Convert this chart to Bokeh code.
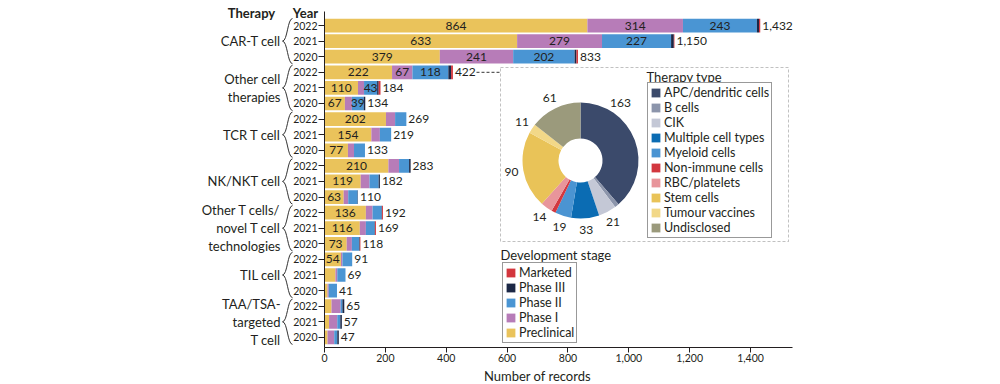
import math
from bokeh.plotting import figure
from bokeh.models import (Range1d, FixedTicker, NumeralTickFormatter, Legend, LegendItem,
                          BoxAnnotation, ColumnDataSource)
from bokeh.embed import file_html
from bokeh.resources import INLINE
from bokeh.core.properties import value

# ---------------- data ----------------
therapies = ["CAR-T cell", "Other cell\ntherapies", "TCR T cell", "NK/NKT cell",
             "Other T cells/\nnovel T cell\ntechnologies", "TIL cell", "TAA/TSA-\ntargeted\nT cell"]
years = ["2022", "2021", "2020"]
stages = ["Preclinical", "Phase I", "Phase II", "Phase III", "Marketed"]

preclinical = [864, 633, 379, 222, 110, 67, 202, 154, 77, 210, 119, 63, 136, 116, 73, 54, 36, 10, 23, 15, 10]
phase1 =      [314, 279, 241, 67, 20, 23, 30, 28, 20, 35, 29, 15, 22, 20, 17, 5, 6, 4, 30, 27, 22]
phase2 =      [243, 227, 202, 118, 43, 39, 37, 37, 36, 33, 30, 31, 30, 29, 24, 32, 27, 27, 6, 10, 10]
phase3 =      [7, 9, 6, 9, 5, 5, 0, 0, 0, 5, 4, 1, 1, 1, 2, 0, 0, 0, 6, 5, 5]
marketed =    [4, 2, 5, 6, 6, 0, 0, 0, 0, 0, 0, 0, 3, 3, 2, 0, 0, 0, 0, 0, 0]

therapy_types = ["APC/dendritic cells", "B cells", "CIK", "Multiple cell types", "Myeloid cells",
                 "Non-immune cells", "RBC/platelets", "Stem cells", "Tumour vaccines", "Undisclosed"]
type_counts = [163, 5, 21, 33, 19, 5, 14, 90, 11, 61]

x_ticks = [0, 200, 400, 600, 800, 1000, 1200, 1400]

# ---------------- styles / layout ----------------
stage_colors = ["#eac35b", "#b77cb8", "#4a95d3", "#1b2746", "#d3363d"]
type_colors = ["#3b4a6b", "#8c95ab", "#c4c8d6", "#0b6cb3", "#4b94d2",
               "#d2373f", "#e8959b", "#e9c358", "#f2d888", "#9b9a7c"]
TXT = "#231f20"
FONT = "Lato"

W, H = 800, 382
LEFT, RIGHT, TOP, BOT = 324, 8, 11, 35
X1 = 1538
Y0, Y1 = -0.65, 20.9
xscale = (W - LEFT - RIGHT) / X1          # px per data unit
yscale = (H - TOP - BOT) / (Y1 - Y0)

def px_x(px):  # page-pixel x -> data x (for layout of side texts)
    return (px - LEFT) / xscale

def px_y(py):
    return Y1 - (py - TOP) / yscale

n_rows = len(therapies) * len(years)
ys = [n_rows - 1 - i for i in range(n_rows)]
stage_values = [preclinical, phase1, phase2, phase3, marketed]
totals = [sum(v[i] for v in stage_values) for i in range(n_rows)]

src = ColumnDataSource(dict(y=ys, **{s: v for s, v in zip(stages, stage_values)}))

p = figure(width=W, height=H, x_range=Range1d(0, X1), y_range=Range1d(Y0, Y1),
           output_backend="svg", toolbar_location=None,
           min_border_left=LEFT, min_border_right=RIGHT, min_border_top=TOP, min_border_bottom=BOT)
p.outline_line_color = None
p.grid.visible = False

bars = p.hbar_stack(stages, y="y", height=0.88, color=stage_colors, source=src, line_color=None)

seg_x, seg_y, seg_t = [], [], []
for i in range(n_rows):
    edge = 0
    for arr in stage_values:
        v = arr[i]
        if v >= 38:
            seg_x.append(edge + v / 2)
            seg_y.append(ys[i])
            seg_t.append(str(v))
        edge += v
p.text(x=seg_x, y=seg_y, text=seg_t, text_align="center", text_baseline="middle",
       text_font=value(FONT), text_font_size="12px", text_color=TXT)
p.text(x=totals, y=ys, text=[f"{t:,}" for t in totals], x_offset=2, text_align="left",
       text_baseline="middle", text_font=value(FONT), text_font_size="12px", text_color=TXT,
       level="overlay")

# ---------------- axes ----------------
p.xaxis.ticker = FixedTicker(ticks=x_ticks)
p.xaxis.formatter = NumeralTickFormatter(format="0,0")
p.xaxis.major_label_text_font = FONT
p.xaxis.major_label_text_font_size = "10.5px"
p.xaxis.major_label_text_color = TXT
p.xaxis.major_label_standoff = 1
p.xaxis.major_tick_out = 5
p.xaxis.major_tick_in = 0
p.xaxis.minor_tick_line_color = None
p.xaxis.axis_line_color = TXT
p.xaxis.major_tick_line_color = TXT

p.yaxis.ticker = FixedTicker(ticks=ys)
p.yaxis.major_label_overrides = {y: years[i % 3] for i, y in enumerate(ys)}
p.yaxis.major_label_text_font = FONT
p.yaxis.major_label_text_font_size = "10.5px"
p.yaxis.major_label_text_color = TXT
p.yaxis.major_label_standoff = 1
p.yaxis.major_tick_out = 6
p.yaxis.major_tick_in = 0
p.yaxis.minor_tick_line_color = None
p.yaxis.axis_line_color = TXT
p.yaxis.major_tick_line_color = TXT

# x-axis title (placed like the reference, left of the frame centre)
p.text(x=[px_x(537)], y=[px_y(375)], text=["Number of records"], text_align="center",
       text_baseline="middle", text_font=value(FONT), text_font_size="13px",
       text_color=TXT, level="overlay")

# ---------------- left side: headers, therapy groups, braces ----------------
hy = px_y(12)
p.text(x=[px_x(251), px_x(305)], y=[hy, hy], text=["Therapy", "Year"], text_align="center",
       text_baseline="middle", text_font=value(FONT), text_font_size="13px",
       text_font_style="bold", text_color=TXT, level="overlay")

g_y = [ys[3 * g + 1] for g in range(len(therapies))]
p.text(x=[px_x(280)] * len(therapies), y=g_y, text=therapies, text_align="right",
       text_baseline="middle", text_font=value(FONT), text_font_size="13px",
       text_line_height=1.12, text_color=TXT, level="overlay")

xr, xm, xt = px_x(292), px_x(287), px_x(282)
bx0, by0, bx1, by1, bcx0, bcy0, bcx1, bcy1 = [], [], [], [], [], [], [], []
for g in range(len(therapies)):
    top = ys[3 * g] + 0.45
    bot = ys[3 * g + 2] - 0.45
    mid = ys[3 * g + 1]
    for ya in (top, bot):
        bx0.append(xr); by0.append(ya)
        bcx0.append(xm); bcy0.append(ya)
        bcx1.append(xm); bcy1.append(mid)
        bx1.append(xt); by1.append(mid)
p.bezier(x0=bx0, y0=by0, x1=bx1, y1=by1, cx0=bcx0, cy0=bcy0, cx1=bcx1, cy1=bcy1,
         line_color="#333333", line_width=1, level="overlay")

# ---------------- inset box + connector ----------------
p.add_layout(BoxAnnotation(left=px_x(500), right=px_x(788), top=px_y(67), bottom=px_y(241),
                           fill_color=None, line_color="#333333", line_dash="3 2", line_width=1))
p.segment(x0=[px_x(476)], y0=[ys[3]], x1=[px_x(500)], y1=[ys[3]], line_color="#333333",
          line_dash="3 2", line_width=1)

# ---------------- donut ----------------
cx, cy = px_x(580), px_y(160)
tot_types = sum(type_counts)
starts, ends, lab_x_off, lab_y_off, lab_t = [], [], [], [], []
cum = 0.0
label_frac = [0.25] + [0.5] * (len(type_counts) - 1)
for k, c in enumerate(type_counts):
    a0 = cum / tot_types * 2 * math.pi
    a1 = (cum + c) / tot_types * 2 * math.pi
    starts.append(math.pi / 2 - a0)
    ends.append(math.pi / 2 - a1)
    if c >= 10:
        am = a0 + (a1 - a0) * label_frac[k]
        lab_x_off.append(70 * math.sin(am))
        lab_y_off.append(-70 * math.cos(am))
        lab_t.append(str(c))
    cum += c
wsrc = ColumnDataSource(dict(x=[cx] * len(type_counts), y=[cy] * len(type_counts),
                             start=starts, end=ends, color=type_colors))
wedges = p.annular_wedge(x="x", y="y", inner_radius=22, outer_radius=58,
                         inner_radius_units="screen", outer_radius_units="screen",
                         start_angle="start", end_angle="end", direction="clock",
                         fill_color="color", line_color=None, source=wsrc)
p.text(x=[cx] * len(lab_t), y=[cy] * len(lab_t), text=lab_t, x_offset=lab_x_off, y_offset=lab_y_off,
       text_align="center", text_baseline="middle", text_font=value(FONT),
       text_font_size="12px", text_color=TXT)

# ---------------- legends ----------------
def style_legend(lg):
    lg.label_text_font = FONT
    lg.label_text_font_size = "12.5px"
    lg.label_text_color = TXT
    lg.glyph_width = 11
    lg.glyph_height = 11
    lg.label_height = 11
    lg.label_standoff = 3
    lg.spacing = 0
    lg.padding = 2
    lg.margin = 0
    lg.border_line_color = "#333333"
    lg.border_line_width = 1
    lg.background_fill_alpha = 1

frame_bottom = H - BOT
type_legend = Legend(items=[LegendItem(label=t, renderers=[wedges], index=k)
                            for k, t in enumerate(therapy_types)],
                     location=(647 - LEFT, frame_bottom - 238))
style_legend(type_legend)
p.add_layout(type_legend)

stage_legend = Legend(items=[LegendItem(label=stages[k], renderers=[bars[k]])
                             for k in reversed(range(len(stages)))],
                      location=(502 - LEFT, frame_bottom - 343))
style_legend(stage_legend)
p.add_layout(stage_legend)

# legend titles sit outside the boxes, drawn on top
p.text(x=[px_x(646)], y=[px_y(76)], text=["Therapy type"], text_align="left", text_baseline="middle",
       text_font=value(FONT), text_font_size="13px", text_color=TXT, level="overlay")
p.text(x=[px_x(500)], y=[px_y(254)], text=["Development stage"], text_align="left",
       text_baseline="middle", text_font=value(FONT), text_font_size="13px", text_color=TXT,
       level="overlay")

open("out.html", "w").write(file_html(p, INLINE))
